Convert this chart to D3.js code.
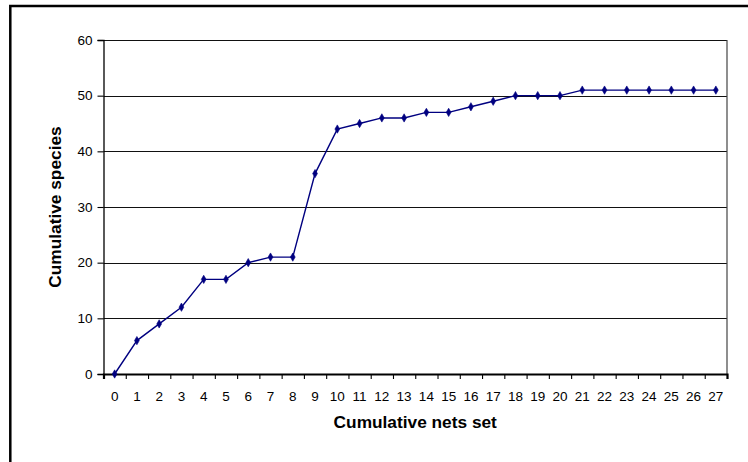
<!DOCTYPE html>
<html>
<head>
<meta charset="utf-8">
<script src="https://cdn.jsdelivr.net/npm/d3@7"></script>
<style>
  html, body { margin: 0; padding: 0; background: #fff; }
  svg { display: block; }
  text { font-family: "Liberation Sans", Arial, sans-serif; fill: #000; }
</style>
</head>
<body>
<svg id="chart" width="748" height="462"></svg>
<script>
const categories = d3.range(0, 28);
const speciesValues = [0, 6, 9, 12, 17, 17, 20, 21, 21, 36, 44, 45, 46, 46, 47, 47, 48, 49, 50, 50, 50, 51, 51, 51, 51, 51, 51, 51];
const yTicks = [0, 10, 20, 30, 40, 50, 60];
const xTitle = "Cumulative nets set";
const yTitle = "Cumulative species";

const svg = d3.select("#chart");
const W = 748, H = 462;
const plot = { left: 103.5, right: 727, top: 40, bottom: 374 };

// outer chart border (extends beyond the visible area on right/bottom)
svg.append("rect")
  .attr("x", 10.3).attr("y", 6)
  .attr("width", W + 20).attr("height", H + 20)
  .attr("fill", "none").attr("stroke", "#000").attr("stroke-width", 2.5);

const x = d3.scaleBand().domain(categories).range([plot.left, plot.right]).padding(0);
const xEdge = d3.scaleLinear().domain([0, categories.length]).range([plot.left, plot.right]);
const y = d3.scaleLinear().domain([0, 60]).range([plot.bottom, plot.top]);

// gridlines
svg.append("g").selectAll("line").data(yTicks.filter(d => d > 0)).join("line")
  .attr("x1", plot.left).attr("x2", plot.right)
  .attr("y1", d => Math.round(y(d)) + 0.5).attr("y2", d => Math.round(y(d)) + 0.5)
  .attr("stroke", "#111").attr("stroke-width", 1.1);

// right border of plot
svg.append("line")
  .attr("x1", plot.right).attr("x2", plot.right)
  .attr("y1", plot.top).attr("y2", plot.bottom)
  .attr("stroke", "#444").attr("stroke-width", 1.2);

// y axis
const yAxis = svg.append("g")
  .attr("transform", `translate(${plot.left},0)`)
  .call(d3.axisLeft(y).tickValues(yTicks).tickSize(6).tickPadding(5));
yAxis.select(".domain").attr("stroke", "#000").attr("stroke-width", 1.3);
yAxis.selectAll(".tick line").attr("stroke", "#000").attr("stroke-width", 1.1);
yAxis.selectAll(".tick text").attr("font-size", "13.5px")
  .attr("font-family", "Liberation Sans, Arial, sans-serif").attr("fill", "#000");

// x axis tick marks at category boundaries
const xTickAxis = svg.append("g")
  .attr("transform", `translate(0,${plot.bottom})`)
  .call(d3.axisBottom(xEdge).tickValues(d3.range(0, categories.length + 1)).tickSize(5).tickFormat(""));
xTickAxis.select(".domain").attr("stroke", "#000").attr("stroke-width", 2.2);
xTickAxis.selectAll(".tick line").attr("stroke", "#000").attr("stroke-width", 1.1);

// x axis labels at category centers
const xLabelAxis = svg.append("g")
  .attr("transform", `translate(0,${plot.bottom})`)
  .call(d3.axisBottom(x).tickSize(0).tickPadding(17));
xLabelAxis.select(".domain").remove();
xLabelAxis.selectAll(".tick text").attr("font-size", "13.5px")
  .attr("font-family", "Liberation Sans, Arial, sans-serif").attr("fill", "#000");

// series line
const line = d3.line()
  .x((d, i) => x(categories[i]) + x.bandwidth() / 2)
  .y(d => y(d));
svg.append("path")
  .datum(speciesValues)
  .attr("d", line)
  .attr("fill", "none")
  .attr("stroke", "#000080")
  .attr("stroke-width", 1.4);

// markers
svg.append("g").selectAll("path").data(speciesValues).join("path")
  .attr("transform", (d, i) => `translate(${x(categories[i]) + x.bandwidth() / 2},${y(d)})`)
  .attr("d", d3.symbol(d3.symbolDiamond, 20))
  .attr("fill", "#000080")
  .attr("stroke", "#000080")
  .attr("stroke-width", 0.6);

// axis titles
svg.append("text")
  .attr("x", (plot.left + plot.right) / 2).attr("y", 428)
  .attr("text-anchor", "middle")
  .attr("font-weight", "bold").attr("font-size", "17.3px")
  .text(xTitle);

svg.append("text")
  .attr("transform", `translate(61,${(plot.top + plot.bottom) / 2}) rotate(-90)`)
  .attr("text-anchor", "middle")
  .attr("font-weight", "bold").attr("font-size", "17.3px")
  .text(yTitle);
</script>
</body>
</html>
